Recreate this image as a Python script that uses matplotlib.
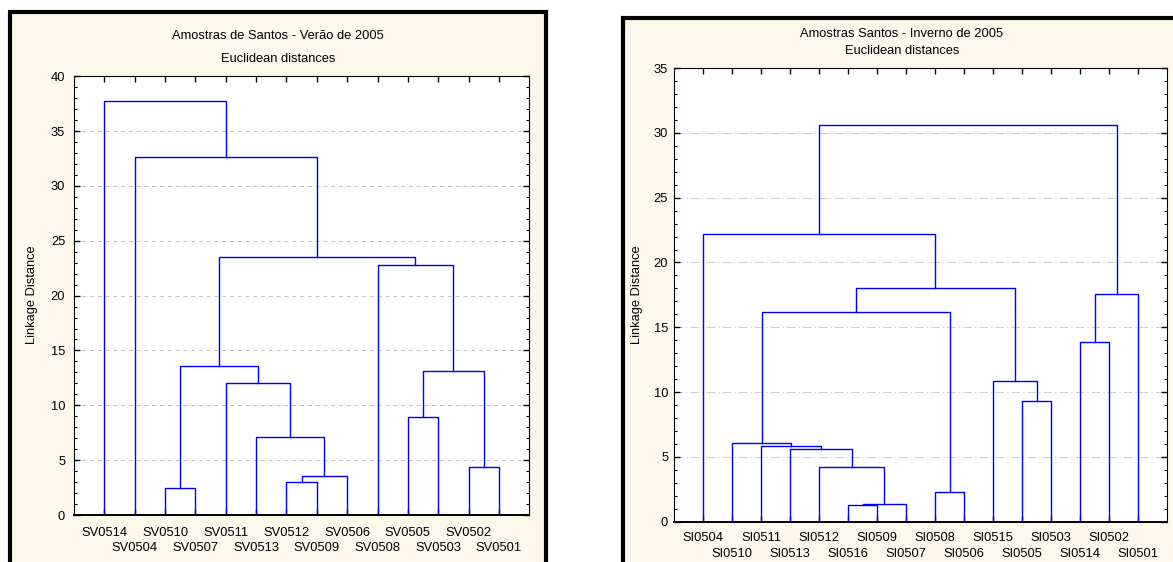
import matplotlib.pyplot as plt
from matplotlib.patches import Rectangle
from matplotlib.ticker import MultipleLocator

W, H = 1173, 562

# Verão 2005: leaves in plot order, merges as (child a, child b, height)
leaves_v = ["SV0514", "SV0504", "SV0510", "SV0507", "SV0511", "SV0513", "SV0512",
            "SV0509", "SV0506", "SV0508", "SV0505", "SV0503", "SV0502", "SV0501"]
merges_v = [(2, 3, 2.43), (6, 7, 3.04), (15, 8, 3.55), (5, 16, 7.08), (4, 17, 12.0),
            (14, 18, 13.55), (10, 11, 8.9), (12, 13, 4.35), (20, 21, 13.15),
            (9, 22, 22.76), (19, 23, 23.55), (1, 24, 32.6), (0, 25, 37.74)]

# Inverno 2005
leaves_i = ["SI0504", "SI0510", "SI0511", "SI0513", "SI0512", "SI0516", "SI0509", "SI0507",
            "SI0508", "SI0506", "SI0515", "SI0505", "SI0503", "SI0514", "SI0502", "SI0501"]
merges_i = [(5, 6, 1.31), (16, 7, 1.38), (4, 17, 4.2), (3, 18, 5.59), (2, 19, 5.87),
            (1, 20, 6.08), (8, 9, 2.27), (21, 22, 16.15), (11, 12, 9.31), (10, 24, 10.88),
            (23, 25, 18.05), (0, 26, 22.19), (13, 14, 13.89), (28, 15, 17.59), (27, 29, 30.62)]

plt.rcParams['font.family'] = ['Liberation Sans', 'DejaVu Sans']

fig = plt.figure(figsize=(W / 100, H / 100), dpi=100)
fig.patch.set_facecolor('white')


def px_box(x0, y0, x1, y1):
    # pixel box (y from top) -> figure fraction rect
    return [x0 / W, 1 - y1 / H, (x1 - x0) / W, (y1 - y0) / H]


def frame(x0, y0, x1, y1):
    l, b, w, h = px_box(x0, y0, x1, y1)
    fig.add_artist(Rectangle((l, b), w, h, transform=fig.transFigure,
                             facecolor='#fdf8ec', edgecolor='black', lw=3, zorder=0))


def ftext(x, y, s, **kw):
    fig.text(x / W, 1 - y / H, s, ha='center', va='center', fontsize=9.3, **kw)


def dendro(ax, leaves, merges):
    n = len(leaves)
    xs = {i: i + 1 for i in range(n)}
    hs = {i: 0.0 for i in range(n)}
    for k, (a, b, h) in enumerate(merges):
        ax.plot([xs[a], xs[a], xs[b], xs[b]], [hs[a], h, h, hs[b]], color='#0000ff', lw=1)
        xs[n + k] = (xs[a] + xs[b]) / 2
        hs[n + k] = h


def setup(ax, leaves, ymax, grid_ls, grid_c, xpad, ypad):
    n = len(leaves)
    ax.set_xlim(0, n + 1)
    ax.set_ylim(0, ymax)
    # labels alternate between two rows: odd leaves on major ticks, even on minor
    ax.set_xticks(range(1, n + 1, 2), leaves[0::2])
    ax.set_xticks(range(2, n + 1, 2), leaves[1::2], minor=True)
    ax.yaxis.set_major_locator(MultipleLocator(5))
    ax.yaxis.set_minor_locator(MultipleLocator(1))
    ax.tick_params(which='both', direction='in', top=True, right=True, labelsize=9.3)
    ax.tick_params(which='major', length=4, width=1)
    ax.tick_params(axis='y', which='minor', length=2.5, width=0.8)
    ax.tick_params(axis='x', which='major', pad=xpad)
    ax.tick_params(axis='x', which='minor', length=4, width=1, pad=xpad + 11.2)
    ax.tick_params(axis='y', pad=ypad)
    ax.yaxis.grid(True, linestyle=grid_ls, color=grid_c, lw=0.7)
    ax.set_axisbelow(True)
    ax.spines['bottom'].set_linewidth(1.4)
    ax.set_facecolor('white')


# left panel
frame(10, 12, 546, 600)
ax1 = fig.add_axes(px_box(74, 76.2, 529.3, 515))
dendro(ax1, leaves_v, merges_v)
setup(ax1, leaves_v, 40, (0, (4, 4)), '#c0c0c0', 8.5, 6.3)
ftext(278, 36, "Amostras de Santos - Verão de 2005")
ftext(278, 59, "Euclidean distances")
ftext(32, 295, "Linkage Distance", rotation=90)

# right panel
frame(623, 18, 1200, 600)
ax2 = fig.add_axes(px_box(674, 68, 1167.3, 521.8))
dendro(ax2, leaves_i, merges_i)
setup(ax2, leaves_i, 35, (0, (9, 3, 1.5, 3)), '#cccccc', 7.4, 4.2)
ftext(902, 34, "Amostras Santos - Inverno de 2005")
ftext(902, 51, "Euclidean distances")
ftext(637, 295, "Linkage Distance", rotation=90)

fig.savefig("out.png", dpi=100)
